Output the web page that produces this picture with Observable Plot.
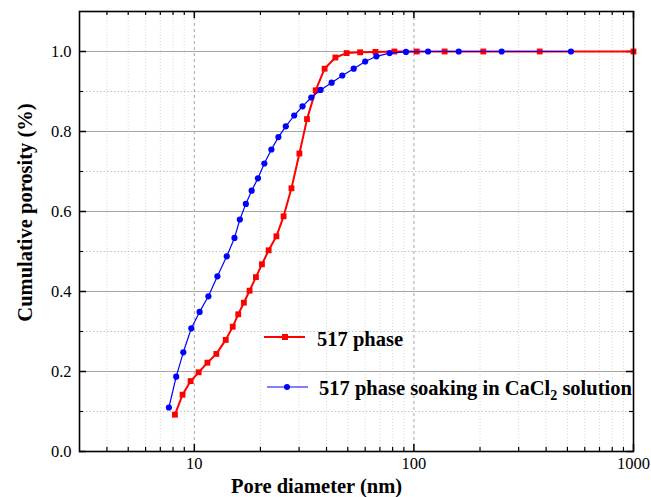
<!DOCTYPE html>
<html><head><meta charset="utf-8">
<script src="https://cdn.jsdelivr.net/npm/d3@7"></script>
<script src="https://cdn.jsdelivr.net/npm/@observablehq/plot@0.6"></script>
<style>
body{margin:0;background:#fff;}
#wrap{position:relative;width:651px;height:497px;font-family:"Liberation Serif","Times New Roman",serif;}
</style>
</head><body><div id="wrap"></div>
<script>
// Series: 517 phase
const redX = [8.16, 8.84, 9.62, 10.46, 11.47, 12.6, 13.9, 14.96, 15.85, 16.81, 17.85, 19.08, 20.32, 21.8, 23.65, 25.5, 27.7, 30.1, 32.6, 35.7, 39.2, 43.9, 49.4, 56.9, 66.8, 81.5, 103, 138, 207, 374, 1000];
const redY = [0.092, 0.142, 0.176, 0.198, 0.222, 0.244, 0.279, 0.312, 0.343, 0.372, 0.402, 0.436, 0.468, 0.503, 0.538, 0.588, 0.658, 0.745, 0.831, 0.903, 0.957, 0.985, 0.996, 0.998, 0.999, 1.0, 1.0, 1.0, 1.0, 1.0, 1.0];
// Series: 517 phase soaking in CaCl2 solution
const blueX = [7.66, 8.27, 8.91, 9.69, 10.57, 11.59, 12.74, 14.05, 15.24, 16.12, 17.17, 18.24, 19.49, 20.84, 22.44, 24.15, 26.1, 28.5, 31.1, 34.1, 37.6, 42.2, 47.2, 53.2, 60, 67.5, 77.5, 92, 116, 160, 251, 519];
const blueY = [0.11, 0.187, 0.248, 0.308, 0.349, 0.388, 0.438, 0.488, 0.534, 0.58, 0.619, 0.652, 0.683, 0.72, 0.755, 0.786, 0.813, 0.84, 0.863, 0.885, 0.904, 0.922, 0.94, 0.957, 0.975, 0.988, 0.996, 0.999, 1.0, 1.0, 1.0, 1.0];

const seriesNames = ["517 phase", "517 phase soaking in CaCl₂ solution"];
const xMajorTicks = [10, 100, 1000];
const xMinorTicks = [4,5,6,7,8,9,20,30,40,50,60,70,80,90,200,300,400,500,600,700,800,900];
const yMajorTicks = [0, 0.2, 0.4, 0.6, 0.8, 1.0];
const yMinorTicks = [0.1, 0.3, 0.5, 0.7, 0.9];
const xTitle = "Pore diameter (nm)";
const yTitle = "Cumulative porosity (%)";

const red = redX.map((x, i) => ({x, y: redY[i]}));
const blue = blueX.map((x, i) => ({x, y: blueY[i]}));

const W = 651, H = 497, mL = 79, mR = 18, mT = 11, mB = 46;
const pw = W - mL - mR, ph = H - mT - mB;
const FONT = '"Liberation Serif","Times New Roman",serif';

const chart = Plot.plot({
  width: W, height: H,
  marginLeft: mL, marginRight: mR, marginTop: mT, marginBottom: mB,
  style: {fontFamily: FONT, fontSize: "16.5px", background: "#fff", color: "#000", overflow: "visible"},
  x: {type: "log", domain: [3, 1000]},
  y: {domain: [0, 1.1]},
  marks: [
    Plot.ruleX(xMinorTicks, {stroke: "#d8d8d8", strokeDasharray: "1,2"}),
    Plot.ruleY(yMinorTicks, {stroke: "#c4c4c4", strokeDasharray: "1.5,2"}),
    Plot.ruleY(yMajorTicks.filter(d => d > 0), {stroke: "#a6a6a6", strokeWidth: 1}),
    Plot.ruleX([10, 100], {stroke: "#a6a6a6", strokeDasharray: "3,3"}),
    // inward ticks on four sides
    Plot.ruleX(xMajorTicks, {insetTop: ph - 7, stroke: "#000", strokeWidth: 1.5}),
    Plot.ruleX(xMajorTicks, {insetBottom: ph - 7, stroke: "#000", strokeWidth: 1.5}),
    Plot.ruleX(xMinorTicks, {insetTop: ph - 4, stroke: "#000", strokeWidth: 1.2}),
    Plot.ruleX(xMinorTicks, {insetBottom: ph - 4, stroke: "#000", strokeWidth: 1.2}),
    Plot.ruleY(yMajorTicks, {insetRight: pw - 7, stroke: "#000", strokeWidth: 1.5}),
    Plot.ruleY(yMajorTicks, {insetLeft: pw - 7, stroke: "#000", strokeWidth: 1.5}),
    Plot.ruleY(yMinorTicks, {insetRight: pw - 4, stroke: "#000", strokeWidth: 1.2}),
    Plot.ruleY(yMinorTicks, {insetLeft: pw - 4, stroke: "#000", strokeWidth: 1.2}),
    Plot.line(red, {x: "x", y: "y", stroke: "#ff0000", strokeWidth: 2}),
    Plot.dot(red, {x: "x", y: "y", symbol: "square", r: 3.3, fill: "#ff0000", stroke: "none"}),
    Plot.line(blue, {x: "x", y: "y", stroke: "#0000ff", strokeWidth: 1.2}),
    Plot.dot(blue, {x: "x", y: "y", r: 3.1, fill: "#0000ff", stroke: "none"}),
    Plot.frame({stroke: "#000", strokeWidth: 1.6}),
    Plot.axisX({ticks: xMajorTicks, tickSize: 0, tickPadding: 6, tickFormat: d => String(d), label: null, fontSize: 16.5}),
    Plot.axisY({ticks: yMajorTicks, tickSize: 0, tickPadding: 8, tickFormat: d3.format(".1f"), label: null, fontSize: 16.5}),
    Plot.text([xTitle], {frameAnchor: "bottom", textAnchor: "middle", dx: -40, dy: 41, fontWeight: "bold", fontSize: 20.5}),
    Plot.text([yTitle], {frameAnchor: "left", textAnchor: "middle", lineAnchor: "middle", rotate: -90, dx: -54, dy: -19, fontWeight: "bold", fontSize: 20.5})
  ]
});

const wrap = document.getElementById("wrap");
wrap.appendChild(chart);

// legend overlay
const legSvg = d3.select(wrap).append("svg")
  .attr("width", W).attr("height", H)
  .style("position", "absolute").style("left", "0").style("top", "0").style("pointer-events", "none");
legSvg.append("line").attr("x1", 264).attr("x2", 305).attr("y1", 337).attr("y2", 337).attr("stroke", "#ff0000").attr("stroke-width", 2);
legSvg.append("rect").attr("x", 282).attr("y", 334).attr("width", 6).attr("height", 6).attr("fill", "#ff0000");
legSvg.append("line").attr("x1", 267).attr("x2", 308).attr("y1", 387).attr("y2", 387).attr("stroke", "#0000ff").attr("stroke-width", 1.2);
legSvg.append("circle").attr("cx", 287).attr("cy", 387).attr("r", 3).attr("fill", "#0000ff");
legSvg.append("text").attr("x", 317).attr("y", 346).attr("font-weight", "bold").attr("font-size", 20.5)
  .attr("font-family", FONT).text(seriesNames[0]);
const t2 = legSvg.append("text").attr("x", 319).attr("y", 395).attr("font-weight", "bold").attr("font-size", 20.5)
  .attr("font-family", FONT);
t2.append("tspan").text("517 phase soaking in CaCl");
t2.append("tspan").attr("font-size", 14).attr("dy", 5).text("2");
t2.append("tspan").attr("dy", -5).text(" solution");
</script>
</body></html>
